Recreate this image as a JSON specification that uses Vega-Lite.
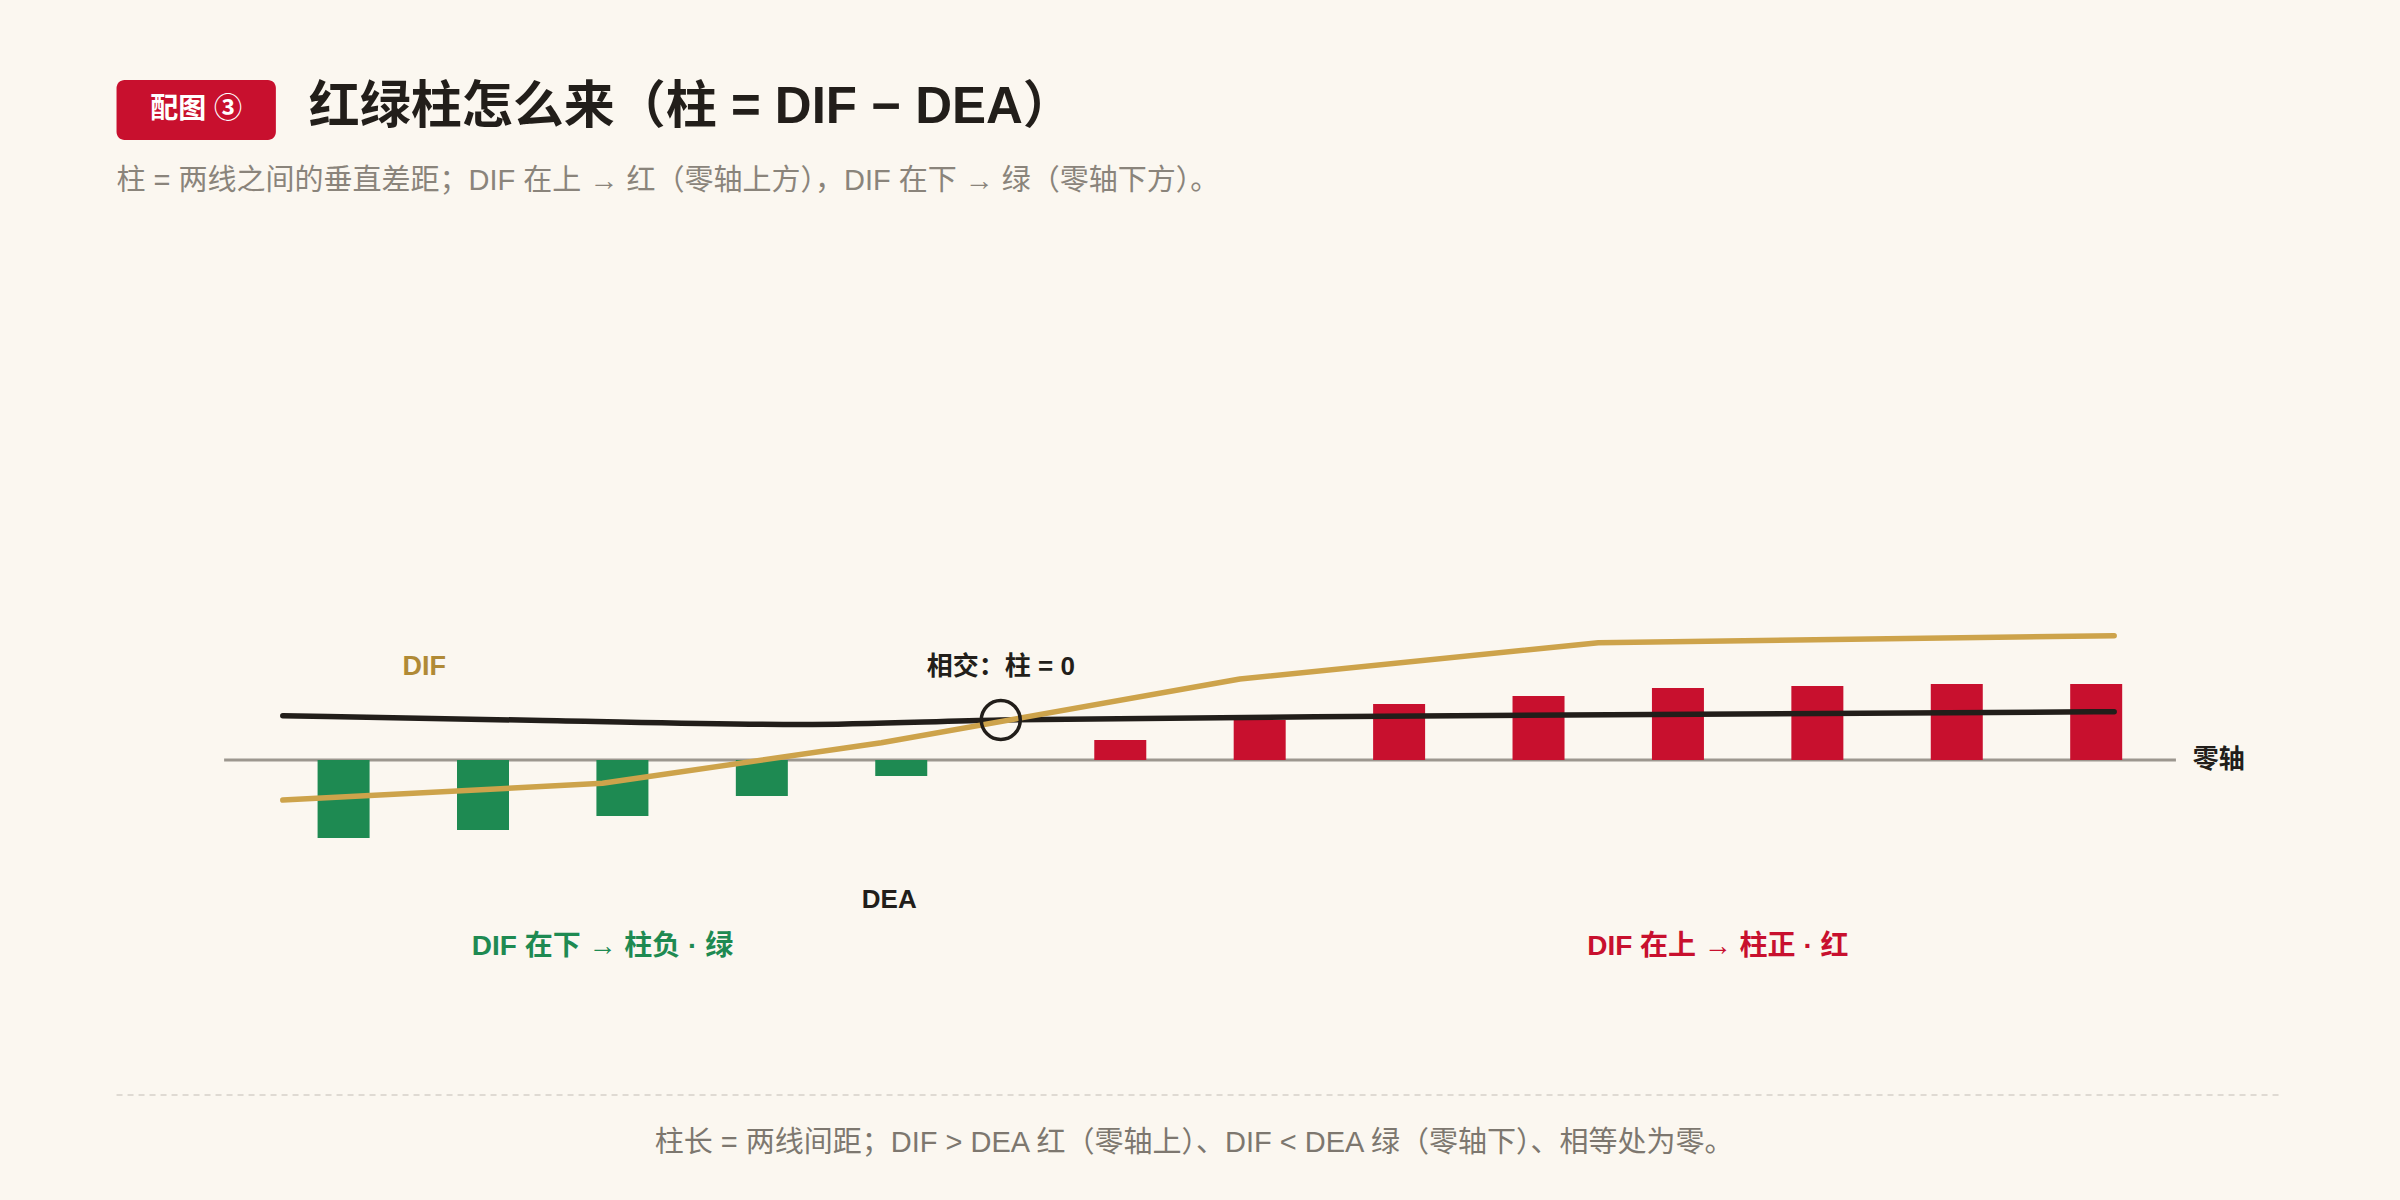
{
  "$schema": "https://vega.github.io/schema/vega-lite/v6.json",
  "width": 2400,
  "height": 1200,
  "autosize": {"type": "none"},
  "padding": {"left": 0, "top": 0, "right": 0, "bottom": 0},
  "background": "#fbf7f0",
  "config": {"padding": 0, "view": {"stroke": null}, "font": "Liberation Sans, Noto Sans CJK SC", "text": {"font": "Liberation Sans, Noto Sans CJK SC"}},
  "datasets": {
    "bars": [
      {"t": 0, "v": -7.8}, {"t": 1, "v": -7.0}, {"t": 2, "v": -5.6}, {"t": 3, "v": -3.6}, {"t": 4, "v": -1.6},
      {"t": 5.571, "v": 2.0}, {"t": 6.571, "v": 4.0}, {"t": 7.571, "v": 5.6}, {"t": 8.571, "v": 6.4},
      {"t": 9.571, "v": 7.2}, {"t": 10.571, "v": 7.4}, {"t": 11.571, "v": 7.6}, {"t": 12.571, "v": 7.6}
    ],
    "dif": [
      {"t": -0.436, "v": -4.0}, {"t": 1.857, "v": -2.33}, {"t": 3.857, "v": 1.73},
      {"t": 6.429, "v": 8.1}, {"t": 9.0, "v": 11.73}, {"t": 12.7, "v": 12.43}
    ],
    "dea": [
      {"t": -0.436, "v": 4.43}, {"t": 1.429, "v": 3.95}, {"t": 3.286, "v": 3.55},
      {"t": 4.714, "v": 4.0}, {"t": 7.714, "v": 4.4}, {"t": 12.7, "v": 4.83}
    ],
    "cross": [{"t": 4.714, "v": 4.0}],
    "zeroaxis": [{"t": -0.857, "t2": 13.143, "v": 0}],
    "divider": [{"t": -1.6286, "t2": 13.914, "v": -33.5}],
    "badge": [{"t": -1.6286, "t2": -0.4857, "v": 68, "v2": 62}],
    "notes": [
      {"role": "badge", "t": -1.057, "v": 65.0, "label": "配图 ③"},
      {"role": "title", "t": -0.25, "v": 65.2, "label": "红绿柱怎么来（柱 = DIF − DEA）"},
      {"role": "subtitle", "t": -1.6286, "v": 57.9, "label": "柱 = 两线之间的垂直差距；DIF 在上 → 红（零轴上方），DIF 在下 → 绿（零轴下方）。"},
      {"role": "footer", "t": 6.1, "v": -38.3, "label": "柱长 = 两线间距；DIF > DEA 红（零轴上）、DIF < DEA 绿（零轴下）、相等处为零。"},
      {"role": "dif", "t": 0.5786, "v": 9.35, "label": "DIF"},
      {"role": "cross", "t": 4.714, "v": 9.3, "label": "相交：柱 = 0"},
      {"role": "dea", "t": 3.914, "v": -14.0, "label": "DEA"},
      {"role": "neg", "t": 1.857, "v": -18.7, "label": "DIF 在下 → 柱负 · 绿"},
      {"role": "pos", "t": 9.857, "v": -18.7, "label": "DIF 在上 → 柱正 · 红"},
      {"role": "zero", "t": 13.264, "v": 0, "label": "零轴"}
    ]
  },
  "encoding": {
    "x": {"field": "t", "type": "quantitative", "scale": {"domain": [-2.4286, 14.7143], "nice": false, "zero": false}, "axis": null},
    "y": {"field": "v", "type": "quantitative", "scale": {"domain": [-44, 76], "nice": false, "zero": false}, "axis": null}
  },
  "layer": [
    {
      "data": {"name": "badge"},
      "mark": {"type": "rect", "color": "#c8102e", "cornerRadius": 8},
      "encoding": {"x2": {"field": "t2"}, "y2": {"field": "v2"}}
    },
    {
      "data": {"name": "divider"},
      "mark": {"type": "rule", "color": "#d6d1c9", "strokeWidth": 1.5, "strokeDash": [6, 5]},
      "encoding": {"x2": {"field": "t2"}}
    },
    {
      "data": {"name": "zeroaxis"},
      "mark": {"type": "rule", "color": "#9c978f", "strokeWidth": 3},
      "encoding": {"x2": {"field": "t2"}}
    },
    {
      "data": {"name": "bars"},
      "mark": {"type": "bar", "width": 52},
      "encoding": {
        "y2": {"datum": 0},
        "color": {"condition": {"test": "datum.v < 0", "value": "#1e8a52"}, "value": "#c8102e"}
      }
    },
    {
      "data": {"name": "dea"},
      "mark": {"type": "line", "color": "#221e1a", "strokeWidth": 5.5, "strokeCap": "round", "interpolate": "monotone"},
      "encoding": {}
    },
    {
      "data": {"name": "dif"},
      "mark": {"type": "line", "color": "#cda34b", "strokeWidth": 5.5, "strokeCap": "round", "strokeJoin": "round"},
      "encoding": {}
    },
    {
      "data": {"name": "cross"},
      "mark": {"type": "point", "shape": "circle", "size": 1520, "filled": false, "stroke": "#221e1a", "strokeWidth": 3.5, "opacity": 1}
    },
    {
      "data": {"name": "notes"},
      "transform": [{"filter": "datum.role === 'badge'"}],
      "mark": {"type": "text", "fontSize": 28, "fontWeight": "bold", "color": "#ffffff", "align": "center", "baseline": "middle"},
      "encoding": {"text": {"field": "label"}}
    },
    {
      "data": {"name": "notes"},
      "transform": [{"filter": "datum.role === 'title'"}],
      "mark": {"type": "text", "fontSize": 51, "fontWeight": "bold", "color": "#221e1a", "align": "left", "baseline": "middle"},
      "encoding": {"text": {"field": "label"}}
    },
    {
      "data": {"name": "notes"},
      "transform": [{"filter": "datum.role === 'subtitle'"}],
      "mark": {"type": "text", "fontSize": 29, "color": "#8a847b", "align": "left", "baseline": "middle"},
      "encoding": {"text": {"field": "label"}}
    },
    {
      "data": {"name": "notes"},
      "transform": [{"filter": "datum.role === 'footer'"}],
      "mark": {"type": "text", "fontSize": 29, "color": "#7d776f", "align": "center", "baseline": "middle"},
      "encoding": {"text": {"field": "label"}}
    },
    {
      "data": {"name": "notes"},
      "transform": [{"filter": "datum.role === 'dif'"}],
      "mark": {"type": "text", "fontSize": 27, "fontWeight": "bold", "color": "#b08a36", "align": "center", "baseline": "middle"},
      "encoding": {"text": {"field": "label"}}
    },
    {
      "data": {"name": "notes"},
      "transform": [{"filter": "datum.role === 'cross' || datum.role === 'dea'"}],
      "mark": {"type": "text", "fontSize": 26, "fontWeight": "bold", "color": "#221e1a", "align": "center", "baseline": "middle"},
      "encoding": {"text": {"field": "label"}}
    },
    {
      "data": {"name": "notes"},
      "transform": [{"filter": "datum.role === 'zero'"}],
      "mark": {"type": "text", "fontSize": 26, "fontWeight": "bold", "color": "#221e1a", "align": "left", "baseline": "middle"},
      "encoding": {"text": {"field": "label"}}
    },
    {
      "data": {"name": "notes"},
      "transform": [{"filter": "datum.role === 'neg'"}],
      "mark": {"type": "text", "fontSize": 28, "fontWeight": "bold", "color": "#1e8a52", "align": "center", "baseline": "middle"},
      "encoding": {"text": {"field": "label"}}
    },
    {
      "data": {"name": "notes"},
      "transform": [{"filter": "datum.role === 'pos'"}],
      "mark": {"type": "text", "fontSize": 28, "fontWeight": "bold", "color": "#c8102e", "align": "center", "baseline": "middle"},
      "encoding": {"text": {"field": "label"}}
    }
  ]
}
